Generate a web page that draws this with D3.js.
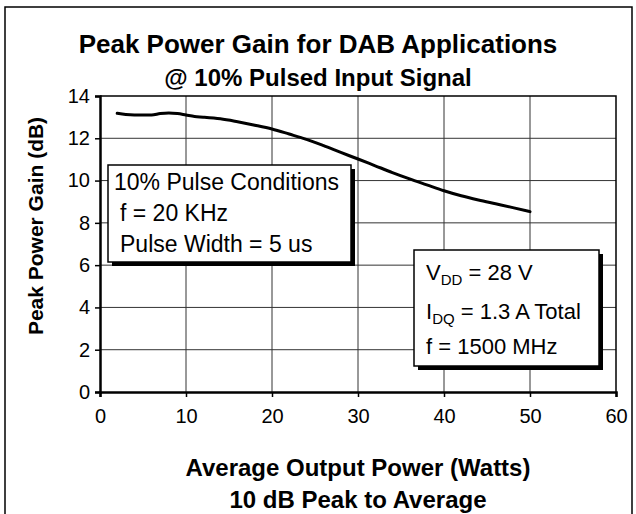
<!DOCTYPE html>
<html>
<head>
<meta charset="utf-8">
<script src="https://cdn.jsdelivr.net/npm/d3@7"></script>
<style>
    body { margin: 0; background: #fff; }
    svg text { font-family: "Liberation Sans", Arial, sans-serif; fill: #000; }
</style>
</head>
<body>
<svg id="chart" width="636" height="514"></svg>
<script>

// average output power (W) and peak gain (dB)
var powerW = [2, 3, 4, 5, 6, 7, 8, 9, 10, 11, 12, 14, 16, 18, 20, 22, 24, 26, 28, 30, 32, 34, 36, 38, 40, 42, 44, 46, 48, 50];
var gainDb = [13.18, 13.12, 13.1, 13.1, 13.1, 13.17, 13.2, 13.17, 13.1, 13.03, 13.0, 12.92, 12.78, 12.62, 12.44, 12.2, 11.95, 11.65, 11.33, 11.02, 10.7, 10.38, 10.08, 9.8, 9.52, 9.28, 9.08, 8.9, 8.72, 8.53];

var xTicks = [0, 10, 20, 30, 40, 50, 60];
var yTicks = [0, 2, 4, 6, 8, 10, 12, 14];

var titleLines = ["Peak Power Gain for DAB Applications", "@ 10% Pulsed Input Signal"];
var xTitleLines = ["Average Output Power (Watts)", "10 dB Peak to Average"];
var yTitle = "Peak Power Gain (dB)";
var pulseLines = ["10% Pulse Conditions", "f = 20 KHz", "Pulse Width = 5 us"];

var svg = d3.select("#chart");

var plot = {left: 100, right: 616, top: 96, bottom: 392};

var x = d3.scaleLinear().domain([0, 60]).range([plot.left, plot.right]);
var y = d3.scaleLinear().domain([0, 14]).range([plot.bottom, plot.top]);

// outer frame (left, top, right)
svg.append("path")
    .attr("d", "M5,514V7H632V514")
    .style("fill", "none")
    .style("stroke", "#000")
    .style("stroke-width", 1.5);

// titles
svg.append("text")
    .attr("x", 318).attr("y", 53)
    .attr("text-anchor", "middle")
    .style("font-size", "26px").style("font-weight", "bold")
    .text(titleLines[0]);
svg.append("text")
    .attr("x", 318).attr("y", 86)
    .attr("text-anchor", "middle")
    .style("font-size", "24px").style("font-weight", "bold")
    .text(titleLines[1]);

// grid lines
svg.append("g").selectAll("line").data(xTicks.slice(1, -1)).enter().append("line")
    .attr("x1", function (d) { return x(d); })
    .attr("x2", function (d) { return x(d); })
    .attr("y1", plot.top).attr("y2", plot.bottom)
    .style("stroke", "#333").style("stroke-width", 1);
svg.append("g").selectAll("line").data(yTicks.slice(1, -1)).enter().append("line")
    .attr("x1", plot.left).attr("x2", plot.right)
    .attr("y1", function (d) { return y(d); })
    .attr("y2", function (d) { return y(d); })
    .style("stroke", "#333").style("stroke-width", 1);

// plot border top/right
svg.append("path")
    .attr("d", "M" + plot.left + "," + plot.top + "H" + plot.right + "V" + plot.bottom)
    .style("fill", "none").style("stroke", "#000").style("stroke-width", 1.5);

// axes
var xAxis = d3.axisBottom(x).tickValues(xTicks).tickSize(5).tickPadding(12);
var yAxis = d3.axisLeft(y).tickValues(yTicks).tickSize(5).tickPadding(5);

var gx = svg.append("g")
    .attr("transform", "translate(0," + plot.bottom + ")")
    .call(xAxis);
var gy = svg.append("g")
    .attr("transform", "translate(" + plot.left + ",0)")
    .call(yAxis);

[gx, gy].forEach(function (g) {
    g.select(".domain").style("stroke", "#000").style("stroke-width", 2.5);
    g.selectAll(".tick line").style("stroke", "#000").style("stroke-width", 1.5);
    g.selectAll(".tick text")
        .style("font-size", "20px")
        .style("font-family", "'Liberation Sans', Arial, sans-serif")
        .style("fill", "#000");
});

// axis titles
svg.append("g").selectAll("text").data(xTitleLines).enter().append("text")
    .attr("x", 358)
    .attr("y", function (d, i) { return 476 + i * 32; })
    .attr("text-anchor", "middle")
    .style("font-size", "24px").style("font-weight", "bold")
    .text(function (d) { return d; });

svg.append("text")
    .attr("transform", "translate(43,226) rotate(-90)")
    .attr("text-anchor", "middle")
    .style("font-size", "21px").style("font-weight", "bold")
    .text(yTitle);

// gain curve
var line = d3.line()
    .x(function (d, i) { return x(powerW[i]); })
    .y(function (d) { return y(d); })
    .curve(d3.curveMonotoneX);

svg.append("path")
    .datum(gainDb)
    .attr("d", line)
    .style("fill", "none")
    .style("stroke", "#000")
    .style("stroke-width", 3)
    .style("stroke-linejoin", "round")
    .style("stroke-linecap", "round");

// text boxes with drop shadow
function drawBox(bx, by, bw, bh) {
    svg.append("rect")
        .attr("x", bx + 4).attr("y", by + 4)
        .attr("width", bw).attr("height", bh)
        .style("fill", "#000");
    svg.append("rect")
        .attr("x", bx).attr("y", by)
        .attr("width", bw).attr("height", bh)
        .style("fill", "#fff")
        .style("stroke", "#000")
        .style("stroke-width", 1.5);
}

drawBox(108, 165, 243, 97);
svg.append("g").selectAll("text").data(pulseLines).enter().append("text")
    .attr("x", function (d, i) { return i === 0 ? 114 : 120; })
    .attr("y", function (d, i) { return 190 + i * 31; })
    .style("font-size", "23px")
    .text(function (d) { return d; });

drawBox(414, 250, 185, 116);
var t1 = svg.append("text").attr("x", 426).attr("y", 280).style("font-size", "22px");
t1.append("tspan").text("V");
t1.append("tspan").attr("dy", 5).style("font-size", "15px").text("DD");
t1.append("tspan").attr("dy", -5).text(" = 28 V");

var t2 = svg.append("text").attr("x", 426).attr("y", 319).style("font-size", "22px");
t2.append("tspan").text("I");
t2.append("tspan").attr("dy", 5).style("font-size", "15px").text("DQ");
t2.append("tspan").attr("dy", -5).text(" = 1.3 A Total");

svg.append("text").attr("x", 426).attr("y", 354).style("font-size", "22px")
    .text("f = 1500 MHz");

</script>
</body>
</html>
